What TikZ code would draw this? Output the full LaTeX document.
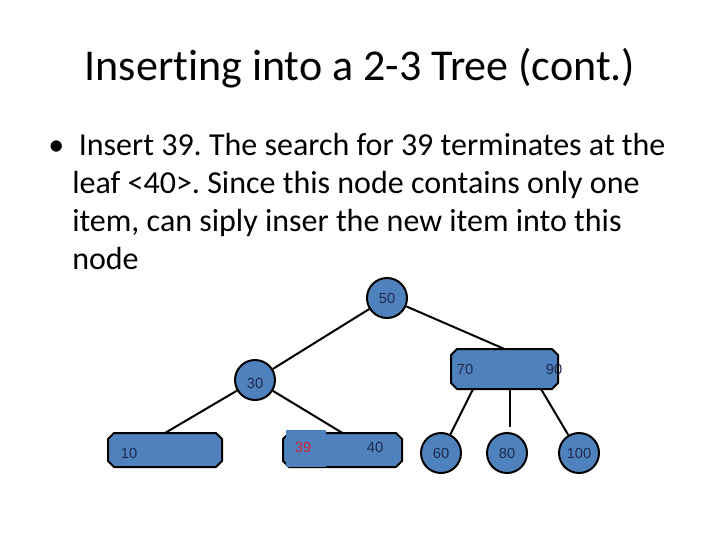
\documentclass[tikz,border=0pt]{standalone}
\usepackage{fontspec}
\setmainfont[RawFeature=-liga]{Carlito}
\newfontfamily\treefont{Liberation Sans}
\definecolor{nodeblue}{HTML}{4F81BD}
\definecolor{navy}{HTML}{1F2A50}
\newcommand{\octbox}[5]{% name, x1, y1, x2, y2
  \fill[nodeblue] ({#2+6},#3) -- ({#4-6},#3) -- (#4,{#3+6}) -- (#4,{#5-6}) -- ({#4-6},#5) -- ({#2+6},#5) -- (#2,{#5-6}) -- (#2,{#3+6}) -- cycle;
  \draw[line width=1.5pt] ({#2+6},#3) -- ({#4-6},#3) -- (#4,{#3+6}) -- (#4,{#5-6}) -- ({#4-6},#5) -- ({#2+6},#5) -- (#2,{#5-6}) -- (#2,{#3+6}) -- cycle;
  \coordinate (#1-n) at ({(#2+#4)/2},#3);
  \coordinate (#1-s) at ({(#2+#4)/2},#5);}
\begin{document}
\frenchspacing
\begin{tikzpicture}[x=0.75pt,y=-0.75pt,
  circ/.style={circle,draw=black,line width=1.5pt,fill=nodeblue,minimum size=40*0.75pt,inner sep=0pt,font=\treefont\fontsize{11}{12}\selectfont,text=navy},
  lbl/.style={font=\treefont\fontsize{11}{12}\selectfont,text=navy,inner sep=0pt},
  edge/.style={line width=1.5pt}]
\useasboundingbox (0,0) rectangle (720,540);
\node[font=\fontsize{33}{38}\selectfont] (title) at (360,68) {Inserting into a 2-3 Tree (cont.)};
\node[anchor=north west,inner sep=0pt,align=left,font=\fontsize{24}{28.5}\selectfont] (body) at (48,133)
 {•\hspace{11pt}Insert 39. The search for 39 terminates at the\\
 \hspace{18pt}leaf <40>. Since this node contains only one\\
 \hspace{18pt}item, can siply inser the new item into this\\
 \hspace{18pt}node};
\node[circ] (n50) at (387,298) {50};
\node[circ] (n30) at (255,380) {};
\node[lbl] (l30) at (255,383) {30};
\octbox{n7090}{451}{349}{558}{389}
\node[lbl] (l70) at (465,369) {70};
\node[lbl] (l90) at (554,369) {90};
\octbox{n1020}{108}{433}{222}{467}
\node[lbl] (l10) at (129,453) {10};
\node[lbl,text=white] (l20) at (129,475) {20};
\octbox{n3940}{283}{433}{402}{467}
\node[fill=nodeblue,minimum width=40*0.75pt,minimum height=37*0.75pt,inner sep=0pt] (hl) at (306,448.5) {};
\node[lbl,text=red!70!nodeblue] (l39) at (303,447) {39};
\node[lbl] (l40) at (375,447) {40};
\node[circ] (n60) at (441,453) {60};
\node[circ] (n80) at (507,453) {80};
\node[circ] (n100) at (579,453) {100};
\coordinate (c80) at (510,427);
\coordinate (s60) at (473,389);
\coordinate (s80) at (510,389);
\coordinate (s100) at (541,389);
\draw[edge] (n50) -- (n7090-n);
\draw[edge] (n50) -- (n30);
\draw[edge] (n30) -- (n1020-n);
\draw[edge] (n30) -- (n3940-n);
\draw[edge] (s60) -- (n60);
\draw[edge] (s80) -- (c80);
\draw[edge] (s100) -- (n100);
\end{tikzpicture}
\end{document}
